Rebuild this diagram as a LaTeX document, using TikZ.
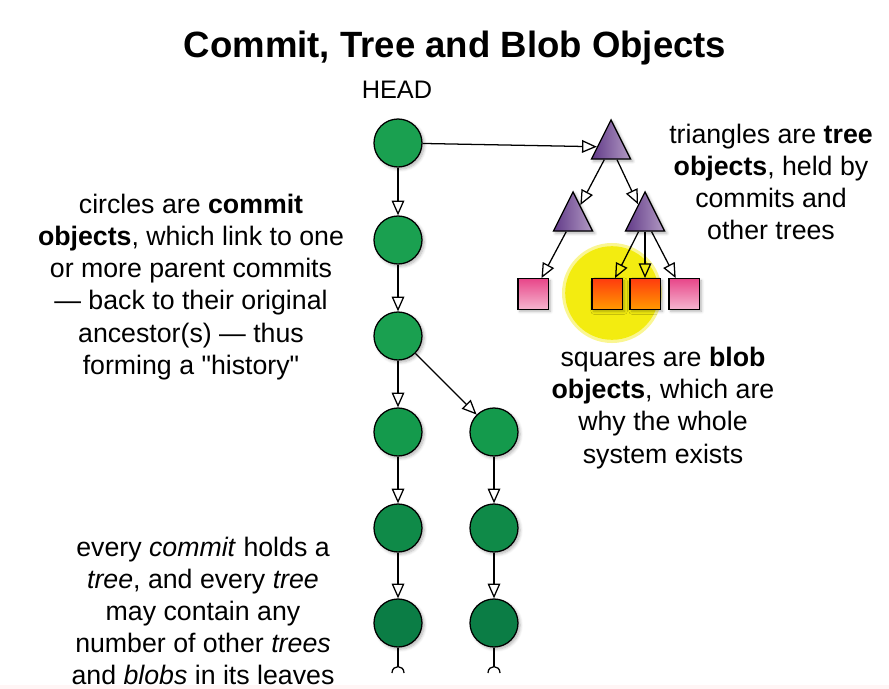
\documentclass[tikz,border=0pt]{standalone}
\usepackage{fontspec}
\setmainfont{Liberation Sans}
\usetikzlibrary{arrows.meta,shapes.geometric,shadows.blur,calc}

\definecolor{commitA}{HTML}{1AA050}
\definecolor{commitB}{HTML}{149A4C}
\definecolor{commitC}{HTML}{0F8A48}
\definecolor{commitD}{HTML}{0B7D45}
\definecolor{treeDark}{HTML}{613A88}
\definecolor{treeLight}{HTML}{B39BC4}
\definecolor{blobTop}{HTML}{E8478A}
\definecolor{blobBot}{HTML}{F5B5CE}
\definecolor{hotTop}{HTML}{FF3C0E}
\definecolor{hotBot}{HTML}{FF9A00}
\definecolor{hilite}{HTML}{F3EC10}

\tikzset{
  softshadow/.style={blur shadow={shadow xshift=1.5pt, shadow yshift=-1.5pt,
      shadow opacity=30, shadow blur steps=6}},
  commit/.style={circle, draw, line width=0.9pt, minimum size=1.2cm,
      inner sep=0pt, fill=#1, softshadow},
  commit/.default=commitA,
  tree/.style={isosceles triangle, shape border rotate=90,
      isosceles triangle stretches, minimum width=0.98cm, minimum height=0.98cm,
      inner sep=0pt, draw, line width=0.9pt, left color=treeDark,
      right color=treeLight, softshadow},
  blob/.style 2 args={rectangle, draw, line width=1pt, minimum size=0.76cm,
      inner sep=0pt, top color=#1, bottom color=#2, softshadow},
  link/.style={-{Triangle[open,length=10.5pt,width=9pt]}, line width=0.9pt},
  caption/.style={align=center, font=\fontsize{19}{22.8}\selectfont},
}

\begin{document}
\begin{tikzpicture}[x=0.025cm, y=-0.025cm]
\useasboundingbox (0,0) rectangle (889,689);
\fill[red!4] (0,685) rectangle (889,689);

% titles and captions
\node (title) at (455,48) {\fontsize{26}{30}\selectfont\bfseries Commit, Tree and Blob Objects};
\node (head) at (397,90) {\fontsize{18}{21}\selectfont HEAD};
\node[caption] (capCommit) at (191,287) {circles are \textbf{commit}\\
  \textbf{objects}, which link to one\\ or more parent commits\\
  --- back to their original\\ ancestor(s) --- thus\\
  forming a \textquotedbl history\textquotedbl};
\node[caption] (capTree) at (771,182) {triangles are \textbf{tree}\\
  \textbf{objects}, held by\\ commits and\\ other trees};
\node[caption] (capBlob) at (663,408) {squares are \textbf{blob}\\
  \textbf{objects}, which are\\ why the whole\\ system exists};
\node[caption] (capLeaves) at (203,611) {every \textit{commit} holds a\\
  \textit{tree}, and every \textit{tree}\\ may contain any\\
  number of other \textit{trees}\\ and \textit{blobs} in its leaves};

% highlight behind the blobs
\fill[hilite, opacity=0.45] (612,293) circle [radius=1.25cm];
\fill[hilite] (612,293) circle [radius=1.17cm];

% commits
\node[commit] (c1) at (398,143) {};
\node[commit] (c2) at (398,240) {};
\node[commit] (c3) at (398,336) {};
\node[commit=commitB] (c4) at (398,432) {};
\node[commit=commitC] (c5) at (398,528) {};
\node[commit=commitD] (c6) at (398,623) {};
\node[commit=commitB] (d1) at (494,432) {};
\node[commit=commitC] (d2) at (494,528) {};
\node[commit=commitD] (d3) at (494,623) {};

% trees and blobs
\node[tree] (tTop) at (611,147) {};
\node[tree] (tLeft) at (573,219) {};
\node[tree] (tRight) at (645,219) {};
\node[blob={blobTop}{blobBot}] (b1) at (533,294) {};
\node[blob={hotTop}{hotBot}] (b2) at (607,294) {};
\node[blob={hotTop}{hotBot}] (b3) at (645,294) {};
\node[blob={blobTop}{blobBot}] (b4) at (684,294) {};

% links
\draw[link] (c1) -- (c2);
\draw[link] (c2) -- (c3);
\draw[link] (c3) -- (c4);
\draw[link] (c4) -- (c5);
\draw[link] (c5) -- (c6);
\draw[link] (c3) -- (d1);
\draw[link] (d1) -- (d2);
\draw[link] (d2) -- (d3);
\draw[link] (c1) -- (tTop);
\draw[link] (tTop) -- (tLeft);
\draw[link] (tTop) -- (tRight);
\draw[link] (tLeft) -- (b1);
\draw[link] (tRight) -- (b2);
\draw[link] (tRight) -- (b3);
\draw[link] (tRight) -- (b4);

% history continues below
\foreach \c in {c6,d3} {
  \coordinate (\c end) at ($(\c)+(0,44)$);
  \draw[line width=0.9pt] (\c) -- (\c end);
  \draw[line width=0.9pt] ($(\c end)+(-6,6)$) .. controls ($(\c end)+(-6,-2.5)$)
    and ($(\c end)+(6,-2.5)$) .. ($(\c end)+(6,6)$);
}
\end{tikzpicture}
\end{document}
